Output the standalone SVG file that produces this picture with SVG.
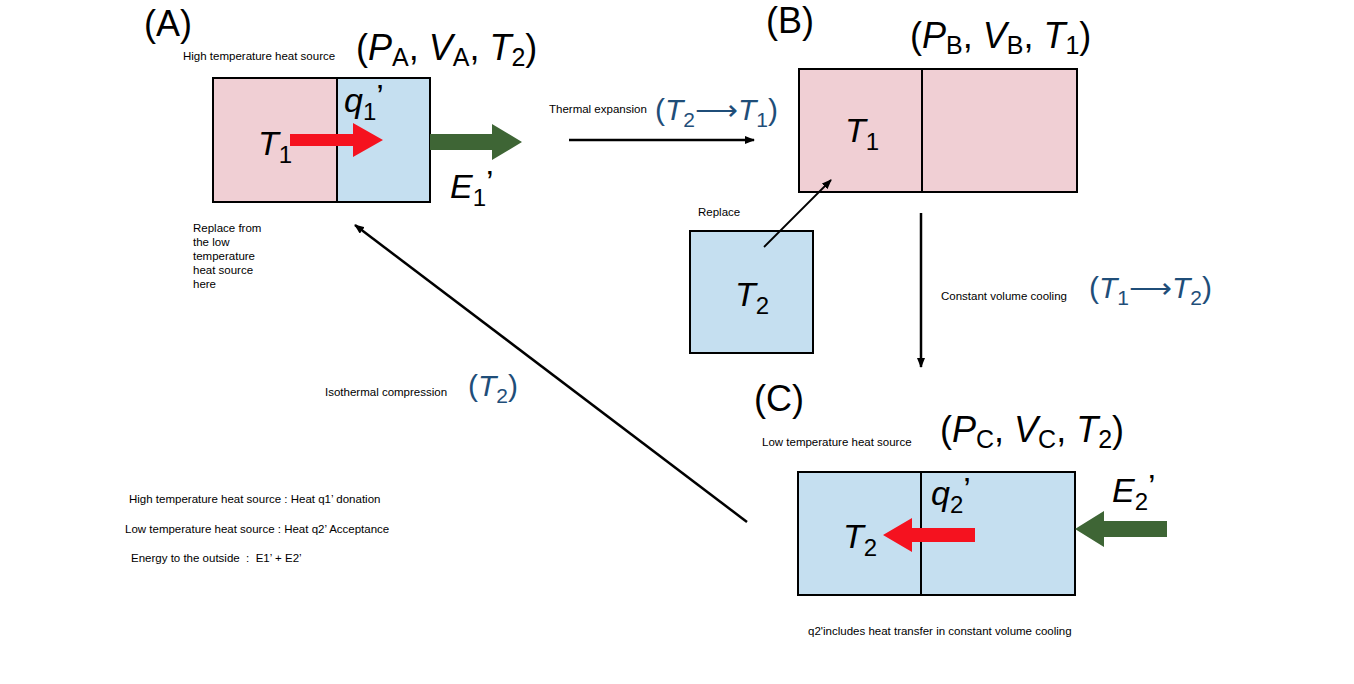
<svg xmlns="http://www.w3.org/2000/svg" width="1354" height="684" viewBox="0 0 1354 684">
<defs>
<style>
.s{font-family:"Liberation Sans",Arial,sans-serif;font-size:11.5px;fill:#000}
.big{font-family:"Liberation Sans",Arial,sans-serif;font-size:36px;fill:#000}
.lab{font-family:"Liberation Sans",Arial,sans-serif;font-size:34px;fill:#000}
.bl{font-family:"Liberation Sans",Arial,sans-serif;font-size:30px;fill:#1f4e79}
.pink{fill:#f0cfd4;stroke:#000;stroke-width:2}
.blue{fill:#c5dff0;stroke:#000;stroke-width:2}
.ln{stroke:#000;stroke-width:2.5;fill:none}
</style>
<marker id="ah" markerWidth="10" markerHeight="8" refX="9" refY="4" orient="auto" markerUnits="userSpaceOnUse"><path d="M0,0L10,4L0,8z" fill="#000"/></marker>
</defs>
<rect width="1354" height="684" fill="#fff"/>
<g id="nodeA">
<text class="big" x="144" y="36">(A)</text>
<text class="s" x="183" y="60">High temperature heat source</text>
<text class="big" x="356" y="60">(<tspan font-style="italic">P</tspan><tspan font-size="25" dy="6">A</tspan><tspan dy="-6">, </tspan><tspan font-style="italic">V</tspan><tspan font-size="25" dy="6">A</tspan><tspan dy="-6">, </tspan><tspan font-style="italic">T</tspan><tspan font-size="25" dy="6">2</tspan><tspan dy="-6">)</tspan></text>
<rect class="pink" x="213" y="78" width="124" height="124"/>
<rect class="blue" x="337" y="78" width="93" height="124"/>
<text class="lab" x="258" y="155" font-style="italic">T<tspan font-style="normal" font-size="24" dy="8">1</tspan></text>
<text class="lab" x="344" y="112" font-style="italic">q<tspan font-style="normal" font-size="24" dy="8">1</tspan><tspan font-style="normal" dy="-12">’</tspan></text>
<path d="M290,134H353V123L383,140L353,157V146H290z" fill="#f5121f"/>
<path d="M430,134H492V124L522,142L492,160V150H430z" fill="#3e6535"/>
<text class="lab" x="450" y="198" font-style="italic">E<tspan font-style="normal" font-size="24" dy="8">1</tspan><tspan font-style="normal" dy="-12">’</tspan></text>
<text class="s" x="193" y="232">Replace from</text>
<text class="s" x="193" y="246">the low</text>
<text class="s" x="193" y="260">temperature</text>
<text class="s" x="193" y="274">heat source</text>
<text class="s" x="193" y="288">here</text>
</g>
<g id="nodeB">
<text class="big" x="766" y="33">(B)</text>
<text class="big" x="910" y="48">(<tspan font-style="italic">P</tspan><tspan font-size="25" dy="6">B</tspan><tspan dy="-6">, </tspan><tspan font-style="italic">V</tspan><tspan font-size="25" dy="6">B</tspan><tspan dy="-6">, </tspan><tspan font-style="italic">T</tspan><tspan font-size="25" dy="6">1</tspan><tspan dy="-6">)</tspan></text>
<rect class="pink" x="799" y="69" width="123" height="123"/>
<rect class="pink" x="922" y="69" width="155" height="123"/>
<text class="lab" x="845" y="142" font-style="italic">T<tspan font-style="normal" font-size="24" dy="8">1</tspan></text>
</g>
<g id="nodeT2">
<text class="s" x="698" y="216">Replace</text>
<rect class="blue" x="690" y="231" width="123" height="122"/>
<text class="lab" x="735" y="306" font-style="italic">T<tspan font-style="normal" font-size="24" dy="8">2</tspan></text>
</g>
<g id="nodeC">
<text class="big" x="754" y="411">(C)</text>
<text class="s" x="762" y="446">Low temperature heat source</text>
<text class="big" x="940" y="442">(<tspan font-style="italic">P</tspan><tspan font-size="25" dy="6">C</tspan><tspan dy="-6">, </tspan><tspan font-style="italic">V</tspan><tspan font-size="25" dy="6">C</tspan><tspan dy="-6">, </tspan><tspan font-style="italic">T</tspan><tspan font-size="25" dy="6">2</tspan><tspan dy="-6">)</tspan></text>
<rect class="blue" x="798" y="472" width="123" height="123"/>
<rect class="blue" x="921" y="472" width="154" height="123"/>
<text class="lab" x="843" y="548" font-style="italic">T<tspan font-style="normal" font-size="24" dy="8">2</tspan></text>
<text class="lab" x="931" y="505" font-style="italic">q<tspan font-style="normal" font-size="24" dy="8">2</tspan><tspan font-style="normal" dy="-12">’</tspan></text>
<path d="M975,528H912V518L883,535L912,552V542H975z" fill="#f5121f"/>
<path d="M1167,521H1104V511L1075,529L1104,547V537H1167z" fill="#3e6535"/>
<text class="lab" x="1112" y="502" font-style="italic">E<tspan font-style="normal" font-size="24" dy="8">2</tspan><tspan font-style="normal" dy="-12">’</tspan></text>
<text class="s" x="808" y="635">q2'includes heat transfer in constant volume cooling</text>
</g>
<g id="notes">
<text class="s" x="129" y="503">High temperature heat source : Heat q1’ donation</text>
<text class="s" x="125" y="533">Low temperature heat source : Heat q2’ Acceptance</text>
<text class="s" x="131" y="562" xml:space="preserve">Energy to the outside  :  E1’ + E2’</text>
</g>
<g id="connectors">
<line class="ln" x1="569" y1="140" x2="754" y2="140" marker-end="url(#ah)"/>
<text class="s" x="549" y="113">Thermal expansion</text>
<text class="bl" x="655" y="120">(<tspan font-style="italic">T</tspan><tspan font-size="21" dy="7">2</tspan><tspan dy="-7">⟶</tspan><tspan font-style="italic">T</tspan><tspan font-size="21" dy="7">1</tspan><tspan dy="-7">)</tspan></text>
<line stroke="#000" stroke-width="1.8" x1="764" y1="247" x2="831" y2="180" marker-end="url(#ah)"/>
<line class="ln" x1="921" y1="213" x2="921" y2="367" marker-end="url(#ah)"/>
<text class="s" x="941" y="300">Constant volume cooling</text>
<text class="bl" x="1089" y="298">(<tspan font-style="italic">T</tspan><tspan font-size="21" dy="7">1</tspan><tspan dy="-7">⟶</tspan><tspan font-style="italic">T</tspan><tspan font-size="21" dy="7">2</tspan><tspan dy="-7">)</tspan></text>
<line class="ln" x1="747" y1="522" x2="355" y2="225" marker-end="url(#ah)"/>
<text class="s" x="325" y="396">Isothermal compression</text>
<text class="bl" x="468" y="396">(<tspan font-style="italic">T</tspan><tspan font-size="21" dy="7">2</tspan><tspan dy="-7">)</tspan></text>
</g>
</svg>
